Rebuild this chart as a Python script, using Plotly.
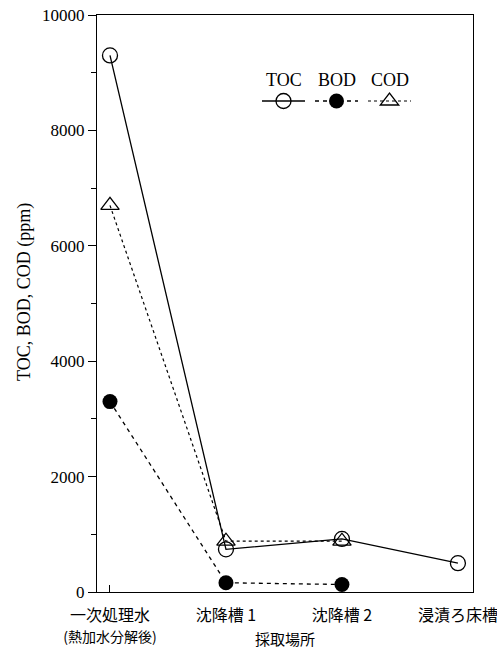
import plotly.graph_objects as go

categories = ["一次処理水<br><span style='font-size:14px'>(熱加水分解後)</span>", "沈降槽 1", "沈降槽 2", "浸漬ろ床槽"]
x_pos = [0, 1, 2, 3]
toc = [9300, 740, 920, 500]
bod = [3300, 160, 130, None]
cod = [6700, 880, 880, None]
series_names = ["TOC", "BOD", "COD"]
y_ticks = [0, 2000, 4000, 6000, 8000, 10000]

W, H = 497, 652
ML, MR, MT, MB = 97, 24, 15, 60
pw, ph = W - ML - MR, H - MT - MB

def px_x(p):
    return (p - ML) / pw

def px_y(p):
    return (H - MB - p) / ph

serif = "Liberation Serif"
cjk = "Noto Sans CJK JP"

fig = go.Figure()
fig.add_trace(go.Scatter(
    x=x_pos, y=toc, mode="lines+markers", name=" ", legend="legend",
    line=dict(color="black", width=1.3, dash="solid"),
    marker=dict(symbol="circle-open", size=15, color="black", line=dict(width=1.3)),
))
fig.add_trace(go.Scatter(
    x=x_pos, y=bod, mode="lines+markers", name=" ", legend="legend2",
    line=dict(color="black", width=1.3, dash="4px,4px"),
    marker=dict(symbol="circle", size=15, color="black"),
))
fig.add_trace(go.Scatter(
    x=x_pos, y=cod, mode="lines+markers", name=" ", legend="legend3",
    line=dict(color="black", width=1.2, dash="dot"),
    marker=dict(symbol="triangle-up-open", size=16, color="black", line=dict(width=1.3)),
))

legend_centers = [284, 337, 390]

def legend_cfg(cx):
    return dict(
        x=px_x(cx - 27), y=px_y(101), xanchor="left", yanchor="middle",
        itemwidth=43, bgcolor="rgba(0,0,0,0)", borderwidth=0,
        font=dict(family=serif, size=4), itemclick=False, itemdoubleclick=False,
    )

fig.update_layout(
    width=W, height=H,
    margin=dict(l=ML, r=MR, t=MT, b=MB, autoexpand=False),
    paper_bgcolor="white", plot_bgcolor="white",
    showlegend=True,
    legend=legend_cfg(legend_centers[0]),
    legend2=legend_cfg(legend_centers[1]),
    legend3=legend_cfg(legend_centers[2]),
    xaxis=dict(
        range=[-0.112, 3.13], tickvals=x_pos, ticktext=categories,
        showline=True, linecolor="black", linewidth=1.3, mirror=True,
        ticks="", showgrid=False, zeroline=False, ticklabelstandoff=9,
        ticklabeloverflow="allow", automargin=False,
        tickfont=dict(family=cjk, size=16, color="black"),
        minor=dict(tickvals=[0], ticks="inside", ticklen=7, tickcolor="black", showgrid=False),
    ),
    yaxis=dict(
        range=[0, 10000], tickvals=y_ticks, automargin=False,
        ticktext=[str(v) for v in y_ticks],
        showline=True, linecolor="black", linewidth=1.3, mirror=True,
        ticks="outside", ticklen=8, tickcolor="black", tickwidth=1.2,
        showgrid=False, zeroline=False,
        tickfont=dict(family=serif, size=17, color="black"),
        minor=dict(dtick=1000, ticks="outside", ticklen=5, tickcolor="black", showgrid=False),
    ),
)

annotations = [
    dict(text="TOC, BOD, COD (ppm)", x=px_x(25), y=px_y(292), textangle=-90,
         font=dict(family=serif, size=18, color="black")),
    dict(text="採取場所", x=px_x(285), y=px_y(638),
         font=dict(family=cjk, size=15, color="black")),
]
for name, cx in zip(series_names, legend_centers):
    annotations.append(dict(text=name, x=px_x(cx), y=px_y(80),
                            font=dict(family=serif, size=18, color="black")))
for a in annotations:
    a.update(xref="paper", yref="paper", showarrow=False, xanchor="center", yanchor="middle")
fig.update_layout(annotations=annotations)

fig.write_html("out.html")
